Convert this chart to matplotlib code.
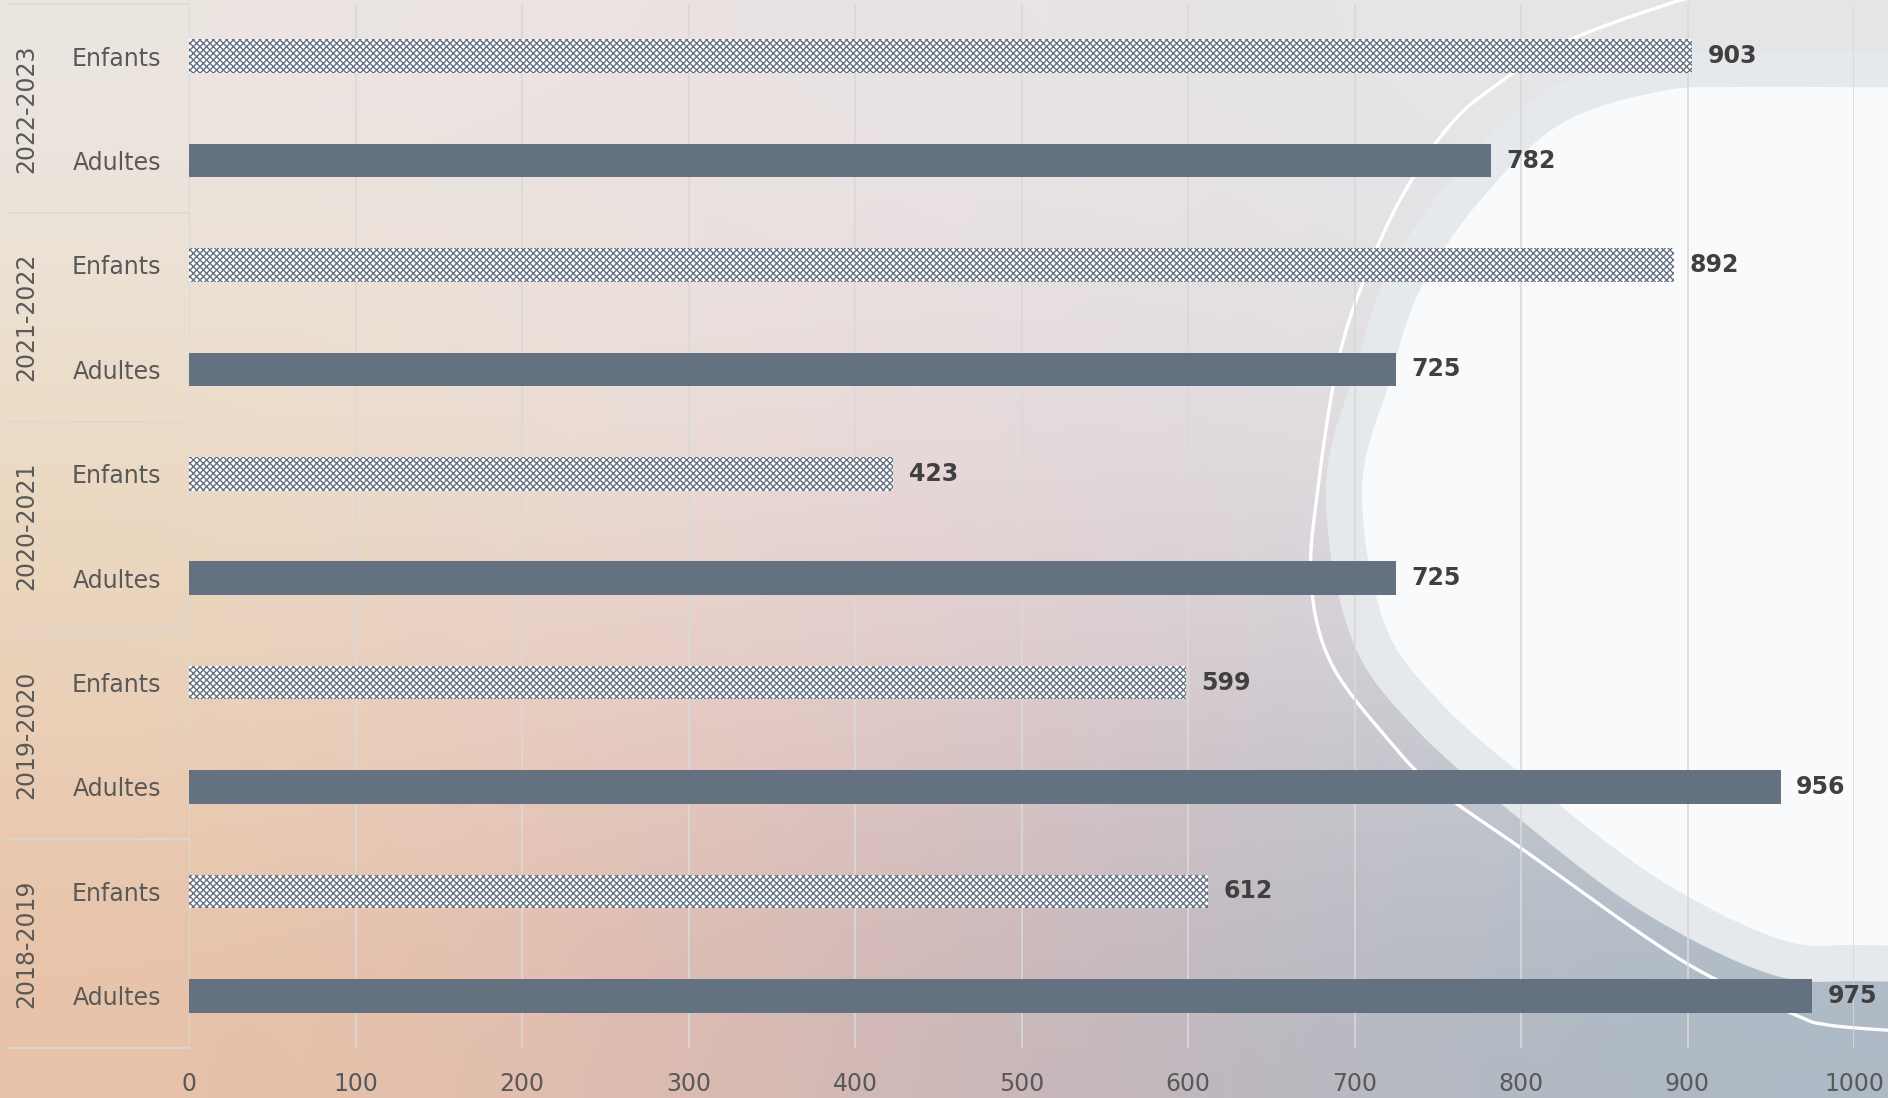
import numpy as np
import matplotlib.pyplot as plt
import matplotlib.transforms as mtransforms
from matplotlib.patches import Polygon
from matplotlib.lines import Line2D

# data
periods = ['2018-2019', '2019-2020', '2020-2021', '2021-2022', '2022-2023']
groups = ['Adultes', 'Enfants']
adultes = [975, 956, 725, 725, 782]
enfants = [612, 599, 423, 892, 903]
xticks = list(range(0, 1001, 100))

W, H = 1888, 1098
bar_color = '#637180'
text_color = '#595959'
grid_color = '#d9d9d9'

plt.rcParams['font.family'] = ['DejaVu Sans']
plt.rcParams['hatch.linewidth'] = 1.0

fig = plt.figure(figsize=(W / 100, H / 100), dpi=100)


def smooth(pts, n=24):
    # catmull-rom through a few guide points
    pts = np.array(pts, float)
    p = np.vstack([pts[0], pts, pts[-1]])
    out = []
    t = np.linspace(0, 1, n, endpoint=False)[:, None]
    for i in range(1, len(p) - 2):
        p0, p1, p2, p3 = p[i - 1], p[i], p[i + 1], p[i + 2]
        out.append(0.5 * (2 * p1 + (-p0 + p2) * t
                          + (2 * p0 - 5 * p1 + 4 * p2 - p3) * t ** 2
                          + (-p0 + 3 * p1 - 3 * p2 + p3) * t ** 3))
    out.append(p[-2][None])
    return np.vstack(out)


# background: soft gradient + white blob on the right
bg = fig.add_axes([0, 0, 1, 1])
bg.set_xlim(0, W)
bg.set_ylim(H, 0)
bg.axis('off')
grid_hex = [
    ['#ebe6e2', '#ebe3e1', '#e9e3e4', '#e6e4e6', '#e6e6e8'],
    ['#ecdcc4', '#ebdfd8', '#e8dbdc', '#e1dee2', '#e4e5e8'],
    ['#ebd2b8', '#eacec4', '#e2c9c9', '#d0ccd3', '#c4cfd9'],
    ['#e8c2a8', '#e2bdae', '#cdb5b6', '#b7b9c2', '#acb9c4'],
]
rgb = np.array([[[int(c[k:k + 2], 16) / 255 for k in (1, 3, 5)] for c in row]
                for row in grid_hex])
bg.imshow(rgb, extent=(0, W, H, 0), interpolation='bicubic', aspect='auto')

blob = smooth([(1960, 88), (1738, 87), (1657, 92), (1559, 125), (1478, 203),
               (1420, 290), (1390, 380), (1362, 488), (1384, 622), (1441, 703),
               (1535, 785), (1657, 878), (1779, 939), (1860, 945), (1960, 945)])
bg.add_patch(Polygon(blob, closed=True, fill=False, edgecolor='#e6e9ec', lw=52, joinstyle='round'))
bg.add_patch(Polygon(blob, closed=True, facecolor='#f9fafb', edgecolor='none'))
line = smooth([(1760, -20), (1681, 0), (1567, 41), (1502, 81), (1450, 125),
               (1400, 200), (1362, 285), (1337, 366), (1318, 488), (1311, 580),
               (1331, 663), (1392, 744), (1437, 789), (1518, 846), (1681, 960),
               (1791, 1013), (1828, 1025), (1900, 1031)])
bg.plot(line[:, 0], line[:, 1], color='white', lw=2.4)

# main chart
x0, x1, y0, y1 = 189, 1854, 4, 1048
ax = fig.add_axes([x0 / W, 1 - y1 / H, (x1 - x0) / W, (y1 - y0) / H])
ax.patch.set_alpha(0)

pos_a = [2 * i for i in range(len(periods))]
pos_e = [2 * i + 1 for i in range(len(periods))]
h = 0.32
ax.barh(pos_a, adultes, height=h, color=bar_color, zorder=3)
ax.barh(pos_e, enfants, height=h, facecolor='white', edgecolor=bar_color,
        hatch='xxxxx', linewidth=0, zorder=3)

for p, v in zip(pos_a + pos_e, adultes + enfants):
    ax.annotate(str(v), (v, p), xytext=(11, 0), textcoords='offset points',
                va='center', ha='left', fontsize=17, fontweight='bold',
                color='#404040', zorder=4)

ax.set_xlim(0, 1000)
ax.set_ylim(-0.5, 2 * len(periods) - 0.5)
ax.set_xticks(xticks)
ax.set_xticklabels([str(t) for t in xticks])
ax.set_yticks(pos_a + pos_e)
ax.set_yticklabels([groups[0]] * len(pos_a) + [groups[1]] * len(pos_e))
ax.tick_params(axis='both', length=0, labelsize=17, labelcolor=text_color)
ax.tick_params(axis='x', pad=17)
ax.tick_params(axis='y', pad=20)
ax.grid(axis='x', color=grid_color, lw=1.2, zorder=0)
for s in ax.spines.values():
    s.set_visible(False)

# period labels and box lines on the left
tr = mtransforms.blended_transform_factory(fig.transFigure, ax.transData)
for i, per in enumerate(periods):
    ax.text(26 / W, 2 * i + 0.5, per, transform=tr, rotation=90,
            ha='center', va='center', fontsize=17, color=text_color)
for k in range(len(periods) + 1):
    yy = 2 * k - 0.5
    ax.add_line(Line2D([8 / W, x0 / W], [yy, yy], transform=tr,
                       color=grid_color, lw=1.2, clip_on=False))

fig.savefig('out.png', dpi=100)
